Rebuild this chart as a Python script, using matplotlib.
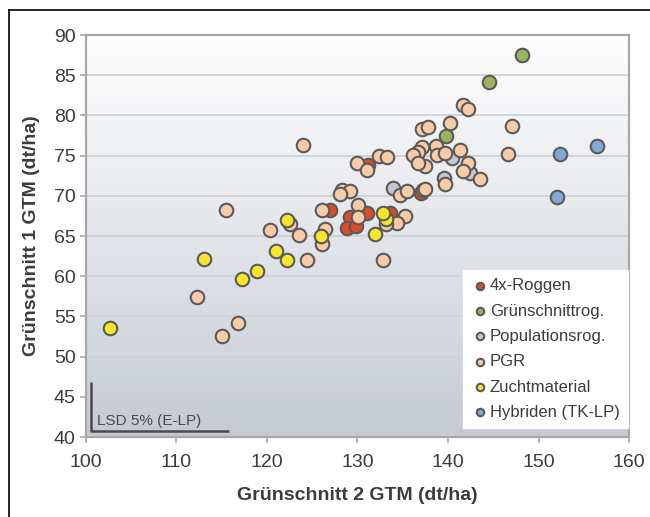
import numpy as np
import matplotlib
matplotlib.use("Agg")
import matplotlib.pyplot as plt
from matplotlib.lines import Line2D

plt.rcParams['font.family'] = ['Liberation Sans', 'DejaVu Sans']

# Grünschnitt 2 (x) / Grünschnitt 1 (y), GTM dt/ha
roggen4x_x = [127.0, 129.2, 131.0, 128.8, 129.8, 137.0, 131.2, 133.6]
roggen4x_y = [68.2, 67.4, 67.9, 66.0, 66.2, 70.3, 73.8, 67.9]

gruen_x = [148.2, 144.5, 139.8]
gruen_y = [87.5, 84.2, 77.4]

pop_x = [140.4, 142.4, 139.6, 133.9]
pop_y = [74.7, 72.8, 72.2, 71.0]

pgr_x = [124.0, 129.9, 131.0, 132.4, 133.3, 128.3, 129.2, 128.1, 115.5, 126.1,
         130.1, 130.1, 120.3, 123.5, 126.4, 126.1, 124.4, 112.3, 116.8, 115.0,
         122.5, 132.8, 135.2, 134.4, 133.1, 134.7, 135.5, 137.2, 137.1, 137.8,
         140.2, 141.7, 142.2, 147.1, 146.6, 138.7, 141.3, 137.1, 136.7, 136.1,
         138.8, 139.7, 137.5, 136.7, 142.2, 141.7, 143.5, 139.7, 137.5]
pgr_y = [76.3, 74.1, 73.2, 75.0, 74.8, 70.7, 70.6, 70.2, 68.2, 68.2,
         68.9, 67.4, 65.7, 65.1, 65.9, 64.0, 62.0, 57.4, 54.2, 52.6,
         66.5, 62.0, 67.5, 66.6, 66.5, 70.1, 70.6, 70.7, 78.3, 78.6,
         79.1, 81.3, 80.8, 78.7, 75.2, 76.2, 75.7, 76.1, 75.4, 75.1,
         75.1, 75.3, 73.7, 74.1, 74.1, 73.1, 72.1, 71.5, 70.8]

zucht_x = [102.7, 113.0, 117.2, 118.9, 121.0, 122.2, 122.2, 126.0, 131.9, 133.1, 132.8]
zucht_y = [53.6, 62.1, 59.7, 60.6, 63.1, 62.0, 67.0, 65.0, 65.2, 67.1, 67.9]

hyb_x = [156.5, 152.4, 152.0]
hyb_y = [76.2, 75.2, 69.9]

series = [
    ("4x-Roggen", roggen4x_x, roggen4x_y, "#de4b2a"),
    ("Grünschnittrog.", gruen_x, gruen_y, "#9ab45a"),
    ("Populationsrog.", pop_x, pop_y, "#c3c7cf"),
    ("PGR", pgr_x, pgr_y, "#f6cba6"),
    ("Zuchtmaterial", zucht_x, zucht_y, "#f6e52a"),
    ("Hybriden (TK-LP)", hyb_x, hyb_y, "#80a8d8"),
]

# LSD 5% bars
lsd_x0, lsd_y0 = 100.55, 40.75
lsd_dx, lsd_dy = 15.2, 6.1

fig = plt.figure(figsize=(6.5, 5.17), dpi=100)
ax = fig.add_axes([0.1323, 0.1547, 0.8354, 0.7776])

# gradient background (white on top, grey-blue at the bottom)
grad = np.linspace(0, 1, 256).reshape(-1, 1)
top = np.array([0.995, 0.995, 0.995])
bot = np.array([0.77, 0.79, 0.83])
w = grad ** 1.1
img = top * (1 - w) + bot * w
ax.imshow(img.reshape(256, 1, 3), extent=[0, 1, 0, 1], transform=ax.transAxes,
          aspect='auto', zorder=0)

ax.set_xlim(100, 160)
ax.set_ylim(40, 90)
ax.set_xticks(np.arange(100, 161, 10))
ax.set_yticks(np.arange(40, 91, 5))
ax.yaxis.grid(True, color="#cfd1d5", lw=1.3, zorder=1)
ax.set_axisbelow(True)

for name, xs, ys, col in series:
    ax.scatter(xs, ys, s=95, c=col, edgecolors="#5a5a5a", linewidths=1.5,
               zorder=3, label=name)

ax.plot([lsd_x0, lsd_x0, lsd_x0 + lsd_dx], [lsd_y0 + lsd_dy, lsd_y0, lsd_y0],
        color="#4a4a4a", lw=1.8, zorder=4, solid_capstyle='butt')
ax.text(lsd_x0 + 0.7, lsd_y0 + 0.4, "LSD 5% (E-LP)", fontsize=11,
        color="#4a4a4a", va='bottom', ha='left', zorder=4)

for sp in ax.spines.values():
    sp.set_color("#a8a8a8")
    sp.set_linewidth(1.6)
ax.tick_params(colors="#a8a8a8", labelcolor="#3c3c3c", labelsize=14,
               length=4, width=1.2)
ax.tick_params(axis='x', pad=8)

ax.set_xlabel("Grünschnitt 2 GTM (dt/ha)", fontsize=14, fontweight='bold',
              color="#3c3c3c", labelpad=12)
ax.set_ylabel("Grünschnitt 1 GTM (dt/ha)", fontsize=14, fontweight='bold',
              color="#3c3c3c", labelpad=10)

leg = ax.legend(loc='lower right', bbox_to_anchor=(0.998, 0.022), fontsize=12,
                frameon=True, fancybox=False, markerscale=0.55, handletextpad=0.1,
                labelspacing=0.62, borderpad=0.5, handlelength=1.0,
                borderaxespad=0)
leg.get_frame().set_facecolor("white")
leg.get_frame().set_edgecolor("white")
leg.get_frame().set_alpha(1)
for t in leg.get_texts():
    t.set_color("#3c3c3c")
leg.set_zorder(5)

# figure border (left and top)
fig.add_artist(Line2D([9 / 650, 9 / 650], [0, 1 - 10 / 517], color="black",
                      lw=1.2, transform=fig.transFigure))
fig.add_artist(Line2D([9 / 650, 1], [1 - 10 / 517, 1 - 10 / 517], color="black",
                      lw=1.2, transform=fig.transFigure))

fig.savefig("out.png", dpi=100)
